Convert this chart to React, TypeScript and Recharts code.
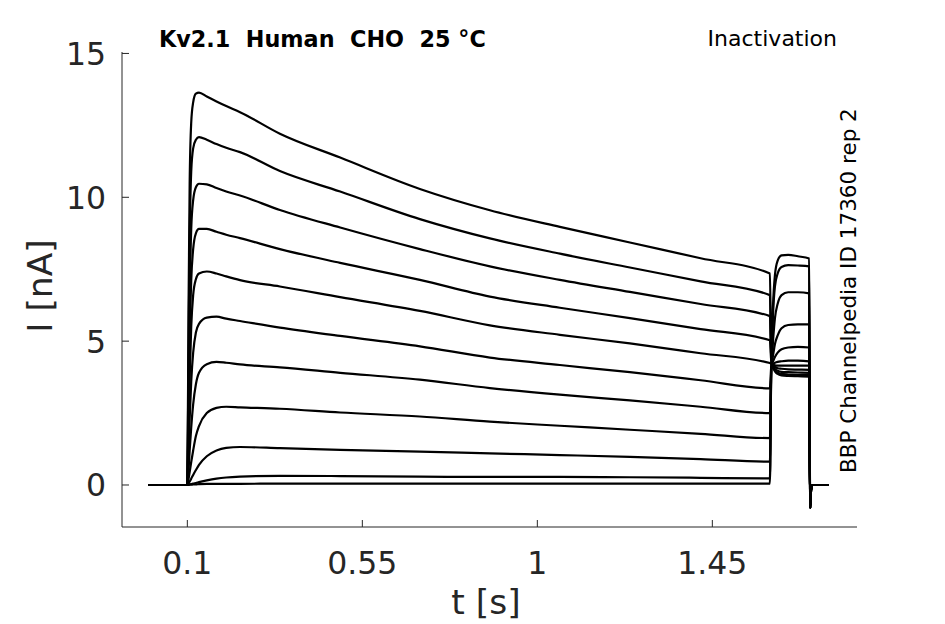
import React from 'react';
import { LineChart, Line, XAxis, YAxis } from 'recharts';

// time samples [s]
const times = [0, 0.1, 0.103, 0.106, 0.11, 0.115, 0.122, 0.13, 0.15, 0.175, 0.2, 0.2355, 0.338, 0.493, 0.698, 0.878, 1.058, 1.238, 1.42, 1.598, 1.602, 1.606, 1.611, 1.618, 1.628, 1.645, 1.67, 1.699, 1.7015, 1.704, 1.708, 1.75];

// current traces [nA], one per voltage step
const trace1 = [0, 0, 6.0, 10.5, 12.6, 13.3, 13.6, 13.64, 13.5, 13.33, 13.17, 12.96, 12.21, 11.38, 10.29, 9.55, 8.97, 8.43, 7.88, 7.35, 4.2, 6.2, 7.3, 7.8, 7.98, 8.0, 7.95, 7.87, -0.8, -0.15, 0, 0];
const trace2 = [0, 0, 4.5, 8.5, 10.9, 11.7, 12.0, 12.09, 12.0, 11.85, 11.72, 11.57, 10.91, 10.2, 9.24, 8.57, 8.04, 7.56, 7.08, 6.6, 4.2, 5.9, 6.9, 7.35, 7.58, 7.64, 7.63, 7.6, -0.8, -0.15, 0, 0];
const trace3 = [0, 0, 3.2, 6.5, 8.9, 9.9, 10.35, 10.47, 10.45, 10.32, 10.2, 10.06, 9.56, 8.95, 8.2, 7.6, 7.13, 6.71, 6.29, 5.87, 4.2, 5.0, 5.8, 6.3, 6.6, 6.7, 6.7, 6.66, -0.8, -0.15, 0, 0];
const trace4 = [0, 0, 2.4, 5.0, 7.1, 8.2, 8.75, 8.9, 8.9, 8.8, 8.7, 8.58, 8.2, 7.72, 7.13, 6.55, 6.16, 5.8, 5.42, 5.03, 4.2, 4.5, 4.9, 5.2, 5.45, 5.56, 5.58, 5.58, -0.8, -0.15, 0, 0];
const trace5 = [0, 0, 1.7, 3.7, 5.5, 6.6, 7.15, 7.35, 7.42, 7.35, 7.25, 7.12, 6.9, 6.53, 6.05, 5.55, 5.22, 4.92, 4.58, 4.24, 4.2, 4.3, 4.45, 4.6, 4.72, 4.78, 4.8, 4.78, -0.8, -0.15, 0, 0];
const trace6 = [0, 0, 1.0, 2.3, 3.6, 4.6, 5.3, 5.6, 5.82, 5.85, 5.78, 5.7, 5.47, 5.18, 4.82, 4.43, 4.17, 3.92, 3.64, 3.36, 4.2, 4.22, 4.25, 4.28, 4.3, 4.32, 4.32, 4.3, -0.8, -0.15, 0, 0];
const trace7 = [0, 0, 0.5, 1.2, 2.0, 2.8, 3.5, 3.9, 4.2, 4.28, 4.25, 4.19, 4.09, 3.9, 3.66, 3.37, 3.14, 2.94, 2.72, 2.5, 4.2, 4.18, 4.16, 4.15, 4.15, 4.15, 4.15, 4.15, -0.8, -0.15, 0, 0];
const trace8 = [0, 0, 0.2, 0.45, 0.8, 1.2, 1.7, 2.05, 2.5, 2.68, 2.72, 2.7, 2.65, 2.52, 2.38, 2.2, 2.06, 1.92, 1.78, 1.63, 4.2, 4.15, 4.1, 4.06, 4.04, 4.02, 4.01, 4.0, -0.8, -0.15, 0, 0];
const trace9 = [0, 0, 0.05, 0.12, 0.22, 0.35, 0.52, 0.7, 1.0, 1.2, 1.29, 1.32, 1.28, 1.22, 1.16, 1.1, 1.04, 0.98, 0.9, 0.81, 4.2, 4.12, 4.03, 3.97, 3.93, 3.92, 3.91, 3.9, -0.8, -0.15, 0, 0];
const trace10 = [0, 0, 0.01, 0.02, 0.03, 0.05, 0.07, 0.1, 0.16, 0.22, 0.26, 0.29, 0.32, 0.31, 0.29, 0.28, 0.28, 0.27, 0.25, 0.23, 4.2, 4.1, 3.98, 3.9, 3.86, 3.84, 3.83, 3.82, -0.8, -0.15, 0, 0];
const trace11 = [0, 0, 0, 0.01, 0.01, 0.02, 0.02, 0.03, 0.04, 0.04, 0.04, 0.04, 0.05, 0.05, 0.05, 0.05, 0.05, 0.05, 0.05, 0.05, 4.2, 4.08, 3.95, 3.86, 3.81, 3.79, 3.78, 3.77, -0.8, -0.15, 0, 0];

const traces = [trace1, trace2, trace3, trace4, trace5, trace6, trace7, trace8, trace9, trace10, trace11];

const xTicks = [0.1, 0.55, 1, 1.45];
const yTicks = [0, 5, 10, 15];

const rows = times.map((t, i) => {
  const row: Record<string, number> = { t };
  traces.forEach((tr, k) => {
    row[`s${k + 1}`] = tr[i];
  });
  return row;
});

const AX = '#262626';
const FONT = 'DejaVu Sans';

const XTick = (props: any) => {
  const { x, y, payload } = props;
  return (
    <g>
      <line x1={x} y1={y} x2={x} y2={y - 7} stroke={AX} strokeWidth={1} />
      <text x={x} y={y + 47} textAnchor="middle" fontSize={31.5} fill={AX} fontFamily={FONT}>
        {String(payload.value)}
      </text>
    </g>
  );
};

const YTick = (props: any) => {
  const { x, y, payload } = props;
  return (
    <g>
      <line x1={x} y1={y} x2={x + 7} y2={y} stroke={AX} strokeWidth={1} />
      <text x={x - 16} y={y + 11.5} textAnchor="end" fontSize={31.5} fill={AX} fontFamily={FONT}>
        {String(payload.value)}
      </text>
    </g>
  );
};

export default function App() {
  return (
    <div style={{ position: 'absolute', left: 0, top: 0, width: 945, height: 624, background: '#fff' }}>
      <LineChart
        width={945}
        height={624}
        data={rows}
        margin={{ top: 52, right: 88, bottom: 37, left: 60 }}
      >
        <XAxis
          dataKey="t"
          type="number"
          domain={[-0.068, 1.822]}
          ticks={xTicks}
          interval={0}
          allowDataOverflow
          height={60}
          tickSize={0}
          tickMargin={0}
          tickLine={false}
          axisLine={{ stroke: AX, strokeWidth: 1 }}
          tick={<XTick />}
        />
        <YAxis
          type="number"
          domain={[-1.46, 15.05]}
          ticks={yTicks}
          interval={0}
          allowDataOverflow
          width={62}
          tickSize={0}
          tickMargin={0}
          tickLine={false}
          axisLine={{ stroke: AX, strokeWidth: 1 }}
          tick={<YTick />}
        />
        {traces.map((_, k) => (
          <Line
            key={k}
            dataKey={`s${k + 1}`}
            type="monotone"
            stroke="#000"
            strokeWidth={2.2}
            dot={false}
            activeDot={false}
            isAnimationActive={false}
          />
        ))}
      </LineChart>
      <svg
        width={945}
        height={624}
        style={{ position: 'absolute', left: 0, top: 0, pointerEvents: 'none' }}
      >
        <text x={159} y={47} fontSize={22.3} fontWeight="bold" fill="#000" fontFamily={FONT} style={{ whiteSpace: 'pre' }}>
          {'Kv2.1  Human  CHO  25 °C'}
        </text>
        <text x={837} y={46} textAnchor="end" fontSize={22} fill="#000" fontFamily={FONT}>
          Inactivation
        </text>
        <text
          x={856}
          y={473}
          fontSize={21.5}
          fill="#000"
          fontFamily={FONT}
          transform="rotate(-90 856 473)"
        >
          BBP Channelpedia ID 17360 rep 2
        </text>
        <text x={486} y={614} textAnchor="middle" fontSize={34.5} fill={AX} fontFamily={FONT}>
          t [s]
        </text>
        <text
          x={52}
          y={286}
          textAnchor="middle"
          fontSize={34.5}
          fill={AX}
          fontFamily={FONT}
          transform="rotate(-90 52 286)"
        >
          I [nA]
        </text>
      </svg>
    </div>
  );
}
